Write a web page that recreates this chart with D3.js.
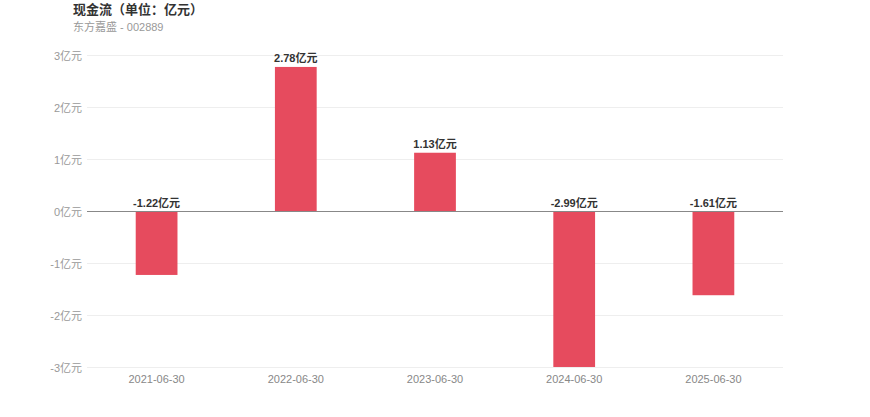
<!DOCTYPE html>
<html><head><meta charset="utf-8">
<script src="https://cdn.jsdelivr.net/npm/d3@7"></script>
<style>body{margin:0;background:#fff;font-family:"Liberation Sans","Noto Sans CJK SC",sans-serif;}</style>
</head><body>
<svg id="c" width="870" height="417"></svg>
<script>
const categories = ["2021-06-30","2022-06-30","2023-06-30","2024-06-30","2025-06-30"];
const values = [-1.22, 2.78, 1.13, -2.99, -1.61];
const valueLabels = ["-1.22亿元","2.78亿元","1.13亿元","-2.99亿元","-1.61亿元"];
const yTicks = [-3,-2,-1,0,1,2,3];
const tickLabels = ["-3亿元","-2亿元","-1亿元","0亿元","1亿元","2亿元","3亿元"];

const svg = d3.select("#c");
const font = '"Liberation Sans","Noto Sans CJK SC",sans-serif';
const L = 87, R = 783, T = 55.5, B = 367.5;
const x = d3.scaleBand().domain(categories).range([L, R]).paddingInner(0.7).paddingOuter(0.35);
const y = d3.scaleLinear().domain([-3, 3]).range([B, T]);

// title
svg.append("text").attr("x", 73).attr("y", 14).attr("font-family", font).attr("font-size", 13)
  .attr("font-weight", "bold").attr("fill", "#333").text("现金流（单位：亿元）");
svg.append("text").attr("x", 73).attr("y", 31).attr("font-family", font).attr("font-size", 11)
  .attr("fill", "#999").text("东方嘉盛 - 002889");

// grid
svg.append("g").selectAll("line").data(yTicks.filter(d => d !== 0)).join("line")
  .attr("x1", L).attr("x2", R).attr("y1", d => y(d)).attr("y2", d => y(d))
  .attr("stroke", "#eeeeee").attr("stroke-width", 1);

// y labels
const yAxis = d3.axisLeft(y).tickValues(yTicks).tickSize(0).tickPadding(5)
  .tickFormat((d, i) => tickLabels[yTicks.indexOf(d)]);
const ya = svg.append("g").attr("transform", `translate(${L},0)`).call(yAxis);
ya.select(".domain").remove();
ya.selectAll("text").attr("font-family", font).attr("font-size", 11).attr("fill", "#999");

// bars
svg.append("g").selectAll("rect").data(values).join("rect")
  .attr("x", (d, i) => x(categories[i]))
  .attr("width", x.bandwidth())
  .attr("y", d => y(Math.max(0, d)))
  .attr("height", d => Math.abs(y(d) - y(0)))
  .attr("fill", "#e64b5e");

// zero line
svg.append("line").attr("x1", L).attr("x2", R).attr("y1", y(0)).attr("y2", y(0))
  .attr("stroke", "#888").attr("stroke-width", 1);

// value labels
svg.append("g").selectAll("text").data(values).join("text")
  .attr("x", (d, i) => x(categories[i]) + x.bandwidth() / 2)
  .attr("y", d => y(Math.max(0, d)) - 5)
  .attr("text-anchor", "middle").attr("font-family", font).attr("font-size", 11)
  .attr("font-weight", "bold").attr("fill", "#333")
  .text((d, i) => valueLabels[i]);

// x labels
const xAxis = d3.axisBottom(x).tickSize(0).tickPadding(8);
const xa = svg.append("g").attr("transform", `translate(0,${B})`).call(xAxis);
xa.select(".domain").remove();
xa.selectAll("text").attr("font-family", font).attr("font-size", 11).attr("fill", "#888");
</script>
</body></html>
